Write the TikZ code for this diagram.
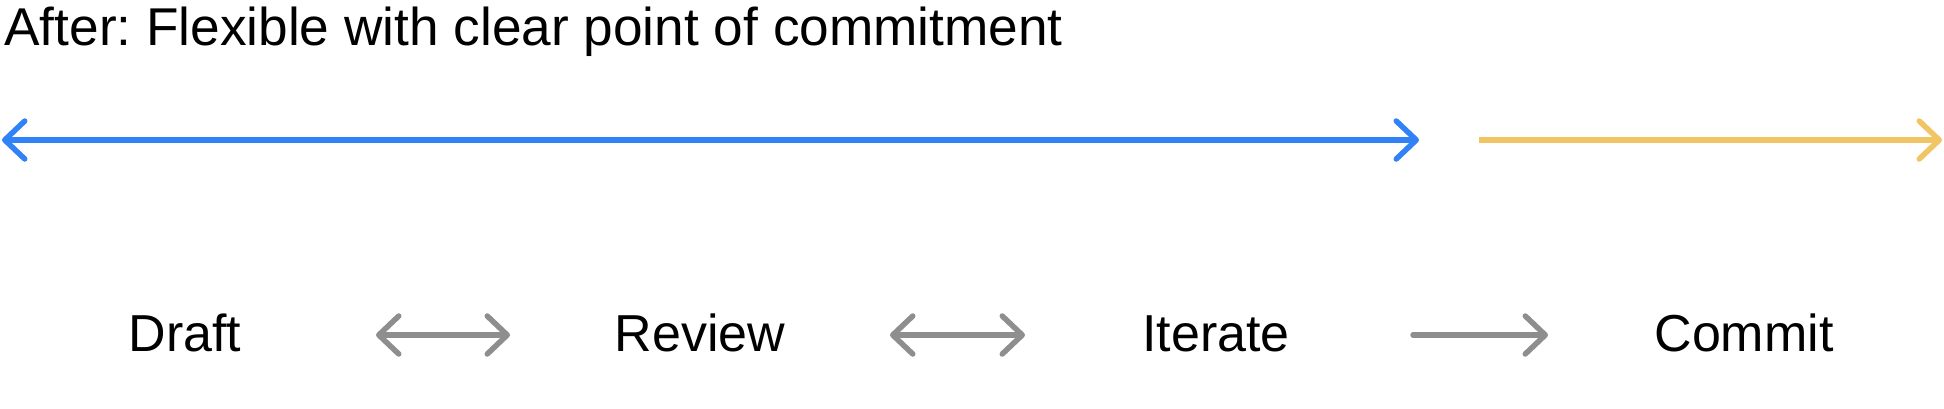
\documentclass[tikz,border=0pt]{standalone}
\usepackage{fontspec}
\setmainfont{Liberation Sans}
\usetikzlibrary{arrows.meta}
\frenchspacing

\definecolor{flexblue}{HTML}{3182F6}
\definecolor{commitgold}{HTML}{F2C564}
\definecolor{loopgray}{HTML}{8E8E8E}

\begin{document}
\begin{tikzpicture}[x=0.5pt,y=-0.5pt,
    chev/.tip={Straight Barb[length=10pt,width=19pt,round]},
    heading/.style={anchor=base west, inner sep=0pt, font=\fontsize{26.6}{31}\selectfont},
    phase/.style={inner sep=0pt, text height=16pt, text depth=0pt, font=\fontsize{26}{31}\selectfont},
    loopline/.style={loopgray, line width=2.75pt, line cap=round},
    flexline/.style={flexblue, line width=2.75pt, chev-chev},
    commitline/.style={commitgold, line width=2.75pt, line cap=butt, -chev}]
    \def\liney{140}
    \def\rowy{335}

% --------------------
% frame
% --------------------
\useasboundingbox (0,0) rectangle (1944,408);

% --------------------
% Title
% --------------------
\node[heading] (title) at (4,45) {After: Flexible with clear point of commitment};

% --------------------
% Timeline: blue flexible part, gold commitment part
% --------------------
\coordinate (flexL) at (2,\liney);
\coordinate (flexR) at (1419,\liney);
\coordinate (commitL) at (1479,\liney);
\coordinate (commitR) at (1942,\liney);

\draw[flexline] (flexL) -- (flexR);
\draw[commitline] (commitL) -- (commitR);

% --------------------
% Phases
% --------------------
\node[phase] (draft) at (185,\rowy) {Draft};
\node[phase] (review) at (700,\rowy) {Review};
\node[phase] (iterate) at (1216,\rowy) {Iterate};
\node[phase] (commit) at (1744,\rowy) {Commit};

% arrows between phases
\draw[loopline, chev-chev, shorten <=95.5pt, shorten >=95pt] (draft.center) -- (review.center);
\draw[loopline, chev-chev, shorten <=95pt, shorten >=95.5pt] (review.center) -- (iterate.center);
\draw[loopline, -chev, shorten <=98.5pt, shorten >=98pt] (iterate.center) -- (commit.center);

\end{tikzpicture}
\end{document}
